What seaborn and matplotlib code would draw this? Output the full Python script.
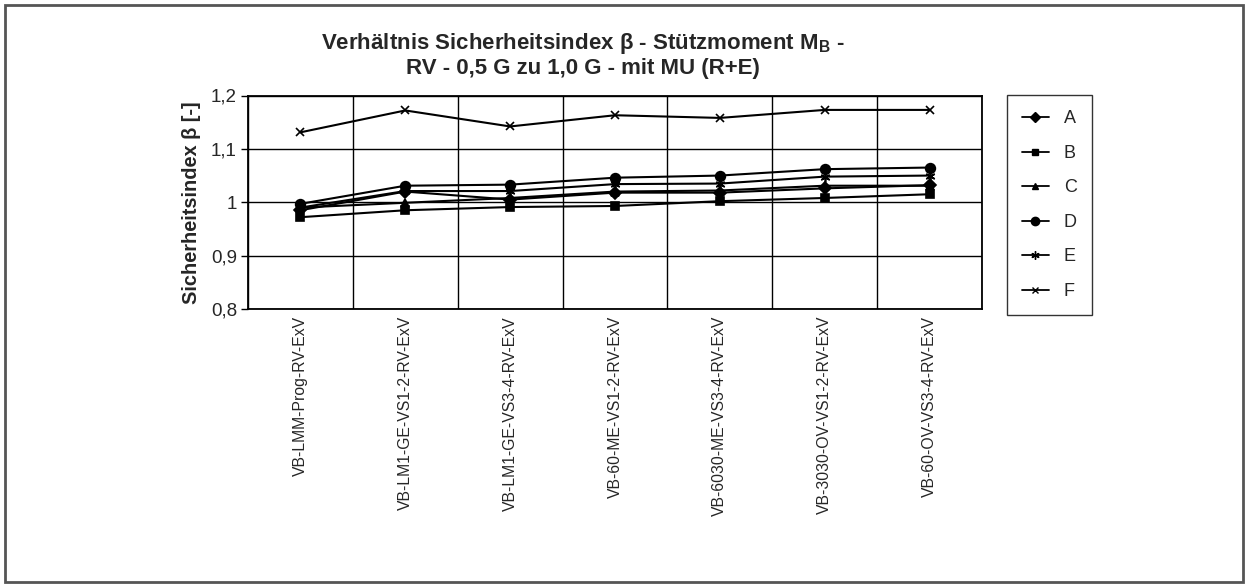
import numpy as np
import pandas as pd
import matplotlib
matplotlib.use("Agg")
import matplotlib.pyplot as plt
import seaborn as sns
from matplotlib.lines import Line2D
from matplotlib.patches import Rectangle

categories = [
    "VB-LMM-Prog-RV-ExV",
    "VB-LM1-GE-VS1-2-RV-ExV",
    "VB-LM1-GE-VS3-4-RV-ExV",
    "VB-60-ME-VS1-2-RV-ExV",
    "VB-6030-ME-VS3-4-RV-ExV",
    "VB-3030-OV-VS1-2-RV-ExV",
    "VB-60-OV-VS3-4-RV-ExV",
]
series_names = ["A", "B", "C", "D", "E", "F"]
A = [0.985, 1.020, 1.005, 1.018, 1.018, 1.026, 1.032]
B = [0.972, 0.985, 0.991, 0.993, 1.002, 1.008, 1.015]
C = [0.990, 0.999, 1.008, 1.020, 1.022, 1.031, 1.031]
D = [0.997, 1.031, 1.033, 1.046, 1.050, 1.062, 1.065]
E = [0.990, 1.021, 1.021, 1.034, 1.035, 1.048, 1.050]
F = [1.131, 1.172, 1.142, 1.163, 1.158, 1.173, 1.173]
yticks = [0.8, 0.9, 1.0, 1.1, 1.2]
ytick_labels = ["0,8", "0,9", "1", "1,1", "1,2"]

title = ("Verhältnis Sicherheitsindex β - Stützmoment M$_\\mathbf{B}$ -\n"
         "RV - 0,5 G zu 1,0 G - mit MU (R+E)")
ylabel = "Sicherheitsindex β [-]"

sns.set_theme(style="white")
plt.rcParams["font.family"] = ["Liberation Sans", "DejaVu Sans"]
plt.rcParams["mathtext.fontset"] = "custom"
plt.rcParams["mathtext.rm"] = "Liberation Sans"
plt.rcParams["mathtext.bf"] = "Liberation Sans:bold"

W, H = 1248, 587
fig = plt.figure(figsize=(W / 100, H / 100), dpi=100)
fig.patch.set_facecolor("white")

L, R, T, Bm = 248, 982, 95.5, 309
ax = fig.add_axes([L / W, 1 - Bm / H, (R - L) / W, (Bm - T) / H])
ax.set_facecolor("white")

markers = {"A": "D", "B": "s", "C": "^", "D": "o", "E": (6, 2, 0), "F": "x"}
msizes = {"A": 6, "B": 6, "C": 6, "D": 7, "E": 7, "F": 6}
data = {"A": A, "B": B, "C": C, "D": D, "E": E, "F": F}
xpos = np.arange(len(categories))

rows = []
for s in series_names:
    for i, v in enumerate(data[s]):
        rows.append({"series": s, "x": xpos[i], "value": v})
df = pd.DataFrame(rows)

for s in series_names:
    sub = df[df["series"] == s]
    sns.lineplot(data=sub, x="x", y="value", ax=ax, color="black",
                 marker=markers[s], markersize=msizes[s], linewidth=1.5,
                 markeredgecolor="black", markerfacecolor="black",
                 markeredgewidth=1.2, legend=False)

ax.set_xlim(-0.5, len(categories) - 0.5)
ax.set_ylim(0.8, 1.2)
ax.set_yticks(yticks)
ax.set_yticklabels(ytick_labels, fontsize=13.5)
ax.set_xticks(xpos)
ax.set_xticklabels(categories, rotation=90, fontsize=11.3, va="top")
ax.tick_params(axis="x", which="major", length=0, pad=5)
ax.set_xticks(np.arange(-0.5, len(categories), 1.0), minor=True)
ax.tick_params(axis="x", which="minor", length=5, width=1, color="black")
ax.tick_params(axis="y", which="major", length=5, width=1, color="black",
               left=True, pad=3)
ax.grid(True, axis="y", which="major", color="black", linewidth=1.0)
ax.grid(True, axis="x", which="minor", color="black", linewidth=1.0)
ax.grid(False, axis="x", which="major")
for sp in ax.spines.values():
    sp.set_visible(True)
    sp.set_color("black")
    sp.set_linewidth(1.3)
ax.set_xlabel("")
ax.set_ylabel(ylabel, fontsize=14.4, fontweight="bold")
ax.yaxis.set_label_coords((201 - L) / (R - L), 0.5)

fig.text(583 / W, 1 - 55 / H, title, ha="center", va="center",
         fontsize=16, fontweight="bold", linespacing=1.1)

handles = [Line2D([0], [0], color="black", marker=markers[s],
                  markersize=msizes[s] - 1, linewidth=1.3,
                  markerfacecolor="black", markeredgecolor="black")
           for s in series_names]
leg = fig.legend(handles, series_names, loc="upper left",
                 bbox_to_anchor=(1007 / W, 1 - 95 / H),
                 fontsize=13, frameon=True, fancybox=False,
                 handlelength=1.45, handletextpad=0.85, labelspacing=0.97,
                 borderpad=0.85, borderaxespad=0)
leg.get_frame().set_edgecolor("black")
leg.get_frame().set_linewidth(1.0)

fig.add_artist(Rectangle((5 / W, 5 / H), (W - 10) / W, (H - 10) / H,
                         transform=fig.transFigure, fill=False,
                         edgecolor="#555555", linewidth=2))

fig.savefig("out.png", dpi=100, facecolor="white")
